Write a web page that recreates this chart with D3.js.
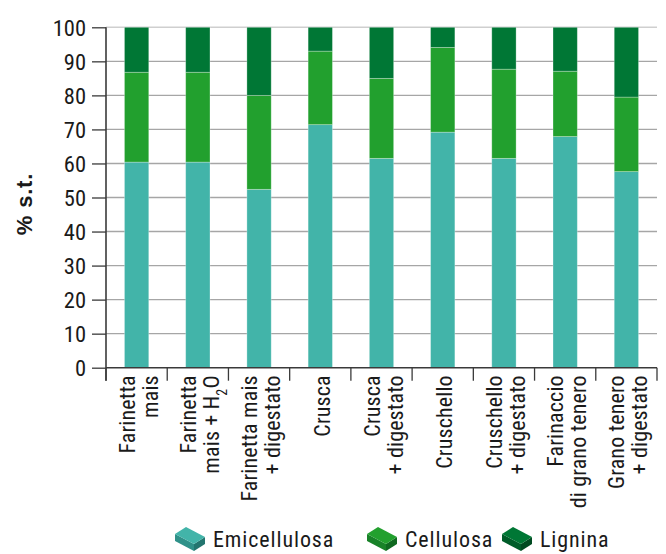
<!DOCTYPE html>
<html>
<head>
<meta charset="utf-8">
<script src="https://cdn.jsdelivr.net/npm/d3@7"></script>
<style>
  html, body { margin: 0; padding: 0; background: #fff; }
  svg { display: block; }
  text { font-family: "Roboto Condensed", "Liberation Sans", sans-serif; fill: #1a1a1a; }
</style>
</head>
<body>
<svg id="chart" width="666" height="554"></svg>
<script>
// Sample names, one array of lines per label ("_2" marks a subscript digit)
const categories = [
  ["Farinetta", "mais"],
  ["Farinetta", "mais + H_2O"],
  ["Farinetta mais", "+ digestato"],
  ["Crusca"],
  ["Crusca", "+ digestato"],
  ["Cruschello"],
  ["Cruschello", "+ digestato"],
  ["Farinaccio", "di grano tenero"],
  ["Grano tenero", "+ digestato"]
];
const seriesNames = ["Emicellulosa", "Cellulosa", "Lignina"];
const emicellulosa = [60.4, 60.4, 52.4, 71.4, 61.5, 69.2, 61.5, 67.9, 57.6];
const cellulosa    = [26.4, 26.4, 27.6, 21.6, 23.5, 24.9, 26.2, 19.2, 21.9];
const lignina      = [13.2, 13.2, 20.0,  7.0, 15.0,  5.9, 12.3, 12.9, 20.5];
const yTicks = [0, 10, 20, 30, 40, 50, 60, 70, 80, 90, 100];
const yTitle = "% s.t.";

const colors = ["#42b4a9", "#22a02e", "#007735"];
const sideColors = [["#2f9189", "#23756f"], ["#188228", "#0f6920"], ["#005c29", "#004a21"]];

const svg = d3.select("#chart");
const plotLeft = 106, plotRight = 657, plotTop = 27.3, plotBottom = 367.7;

const keys = categories.map((c, i) => i);
const x = d3.scaleBand().domain(keys).range([plotLeft, plotRight]).padding(0);
const y = d3.scaleLinear().domain([0, 100]).range([plotBottom, plotTop]);
const barW = x.bandwidth() * 0.397;

const rows = keys.map(i => ({ i, Emicellulosa: emicellulosa[i], Cellulosa: cellulosa[i], Lignina: lignina[i] }));
const stacked = d3.stack().keys(seriesNames)(rows);

// horizontal grid
svg.append("g")
  .selectAll("line")
  .data(yTicks.filter(t => t > 0))
  .join("line")
  .attr("x1", plotLeft).attr("x2", plotRight)
  .attr("y1", d => y(d)).attr("y2", d => y(d))
  .attr("stroke", d => d === 100 ? "#cfcfcf" : "#a6a6a6")
  .attr("stroke-width", 1.4);

// stacked bars
stacked.forEach((layer, k) => {
  svg.append("g")
    .selectAll("rect")
    .data(layer)
    .join("rect")
    .attr("x", d => x(d.data.i) + x.bandwidth() / 2 - barW / 2)
    .attr("width", barW)
    .attr("y", d => y(d[1]))
    .attr("height", d => y(d[0]) - y(d[1]))
    .attr("fill", colors[k])
    .attr("stroke", "rgba(255,255,255,0.35)")
    .attr("stroke-width", 0.8);
});

// y axis
const yAxis = d3.axisLeft(y).tickValues(yTicks).tickSize(14).tickPadding(6);
const gy = svg.append("g").attr("transform", `translate(${plotLeft},0)`).call(yAxis);
gy.select(".domain").remove();
gy.selectAll(".tick line").attr("stroke", "#3a3a3a").attr("stroke-width", 1.3);
gy.selectAll(".tick text")
  .style("font-family", "'Roboto Condensed', sans-serif")
  .style("font-size", "22.5px").attr("fill", "#1a1a1a").attr("dy", "0.36em");
svg.append("line")
  .attr("x1", plotLeft).attr("x2", plotLeft).attr("y1", plotTop).attr("y2", plotBottom + 13)
  .attr("stroke", "#3a3a3a").attr("stroke-width", 1.6);

// x axis line and category separators
svg.append("line")
  .attr("x1", plotLeft).attr("x2", plotRight).attr("y1", plotBottom).attr("y2", plotBottom)
  .attr("stroke", "#3a3a3a").attr("stroke-width", 1.6);
const seps = keys.map(i => x(i)).concat([plotRight]);
svg.append("g").selectAll("line").data(seps).join("line")
  .attr("x1", d => d).attr("x2", d => d)
  .attr("y1", plotBottom).attr("y2", plotBottom + 13)
  .attr("stroke", "#3a3a3a").attr("stroke-width", 1.3);

// category labels, rotated
const lineGap = 23;
const lab = svg.append("g");
categories.forEach((lines, i) => {
  const cx = x(i) + x.bandwidth() / 2;
  const n = lines.length;
  lines.forEach((ln, j) => {
    const off = (j - (n - 1) / 2) * lineGap;
    const t = lab.append("text")
      .attr("transform", `translate(${cx + off + 9.5},${plotBottom + 7.5}) rotate(-90)`)
      .attr("text-anchor", "end")
      .style("font-size", "22px")
      .style("letter-spacing", "0.15px");
    const parts = ln.split(/_(\d)/);
    parts.forEach((p, q) => {
      if (q % 2 === 1) {
        t.append("tspan").text(p).attr("baseline-shift", "sub").style("font-size", "14px");
      } else if (p) {
        t.append("tspan").text(p);
      }
    });
  });
});

// y title
svg.append("text")
  .attr("transform", `translate(32,204) rotate(-90)`)
  .attr("text-anchor", "middle")
  .style("font-size", "22px")
  .style("font-weight", "bold")
  .style("letter-spacing", "0.8px")
  .style("font-family", "'Liberation Sans', sans-serif")
  .text(yTitle);

// legend with box icons
const legendX = [175, 367, 502];
const legY = 527;
seriesNames.forEach((name, k) => {
  const g = svg.append("g").attr("transform", `translate(${legendX[k]},${legY})`);
  const A = [0, 7], B = [11, 0], C = [30, 10], D = [19, 17];
  const h = 7;
  const Ad = [0, 7 + h], Dd = [19, 17 + h], Cd = [30, 10 + h];
  const poly = pts => "M" + pts.map(p => p.join(",")).join("L") + "Z";
  g.append("path").attr("d", poly([A, D, Dd, Ad])).attr("fill", sideColors[k][0]);
  g.append("path").attr("d", poly([D, C, Cd, Dd])).attr("fill", sideColors[k][1]);
  g.append("path").attr("d", poly([A, B, C, D])).attr("fill", colors[k]);
  g.append("text").attr("x", 38).attr("y", 20)
    .style("font-size", "22px").style("letter-spacing", "0.9px").text(name);
});
</script>
</body>
</html>
